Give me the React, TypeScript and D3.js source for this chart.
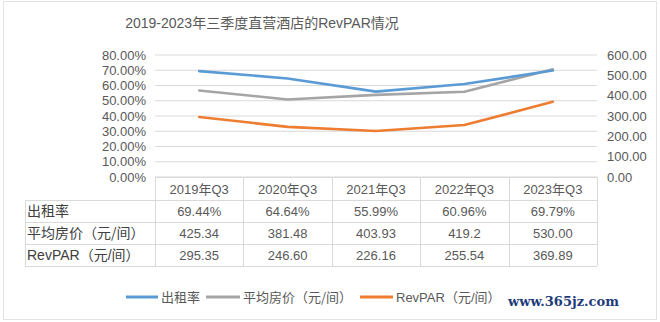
import React from "react";
import * as d3 from "d3";

const categories = ["2019年Q3", "2020年Q3", "2021年Q3", "2022年Q3", "2023年Q3"];
const occupancy = [69.44, 64.64, 55.99, 60.96, 69.79];
const avgPrice = [425.34, 381.48, 403.93, 419.2, 530.0];
const revpar = [295.35, 246.6, 226.16, 255.54, 369.89];
const occupancyLabels = ["69.44%", "64.64%", "55.99%", "60.96%", "69.79%"];
const avgPriceLabels = ["425.34", "381.48", "403.93", "419.2", "530.00"];
const revparLabels = ["295.35", "246.60", "226.16", "255.54", "369.89"];
const leftTicks = [0, 10, 20, 30, 40, 50, 60, 70, 80];
const rightTicks = [0, 100, 200, 300, 400, 500, 600];
const seriesNames = ["出租率", "平均房价（元/间）", "RevPAR（元/间）"];
const title = "2019-2023年三季度直营酒店的RevPAR情况";

const W = 660;
const H = 322;
const plotL = 155;
const plotR = 597;
const plotT = 55;
const plotB = 177;
const tableL = 25;
const headerB = 200;
const rowH = 22;
const colors = ["#5B9BD5", "#A5A5A5", "#ED7D31"];
const FONT = "'Liberation Sans', 'Noto Sans CJK SC', sans-serif";
const CJK = "'Noto Sans CJK SC', 'Liberation Sans', sans-serif";

export default function App() {
  const x = d3.scaleBand<string>().domain(categories).range([plotL, plotR]);
  const yL = d3.scaleLinear().domain([0, 80]).range([plotB, plotT]);
  const yR = d3.scaleLinear().domain([0, 600]).range([plotB, plotT]);
  const cx = (c: string) => (x(c) as number) + x.bandwidth() / 2;

  const lineL = d3
    .line<number>()
    .x((_, i) => cx(categories[i]))
    .y((d) => yL(d));
  const lineR = d3
    .line<number>()
    .x((_, i) => cx(categories[i]))
    .y((d) => yR(d));

  const rows = [occupancyLabels, avgPriceLabels, revparLabels];
  const gridColor = "#D9D9D9";
  const textColor = "#595959";

  const legendItems = [
    { x1: 126, x2: 158, tx: 161 },
    { x1: 206, x2: 240, tx: 243 },
    { x1: 360, x2: 393, tx: 396 },
  ];

  return (
    <svg
      width={W}
      height={H}
      style={{ position: "absolute", left: 0, top: 0, background: "#fff" }}
    >
      <rect x={3.5} y={1.5} width={653} height={318} fill="#fff" stroke="#E3E3E3" />
      <text
        x={262}
        y={28}
        textAnchor="middle"
        fontFamily={FONT}
        fontSize={14}
        fill={textColor}
      >
        {title}
      </text>

      {/* gridlines */}
      {leftTicks.map((t) => (
        <line
          key={"g" + t}
          x1={plotL}
          x2={plotR}
          y1={yL(t)}
          y2={yL(t)}
          stroke={gridColor}
          strokeWidth={1}
        />
      ))}
      {leftTicks.map((t) => (
        <text
          key={"l" + t}
          x={146}
          y={yL(t) + 4.5}
          textAnchor="end"
          fontFamily={FONT}
          fontSize={13}
          fill={textColor}
        >
          {t.toFixed(2) + "%"}
        </text>
      ))}
      {rightTicks.map((t) => (
        <text
          key={"r" + t}
          x={607}
          y={yR(t) + 4.5}
          textAnchor="start"
          fontFamily={FONT}
          fontSize={13}
          fill={textColor}
        >
          {t.toFixed(2)}
        </text>
      ))}

      {/* lines */}
      <path d={lineR(avgPrice) || ""} fill="none" stroke={colors[1]} strokeWidth={2.6} strokeLinejoin="round" strokeLinecap="round" />
      <path d={lineR(revpar) || ""} fill="none" stroke={colors[2]} strokeWidth={2.6} strokeLinejoin="round" strokeLinecap="round" />
      <path d={lineL(occupancy) || ""} fill="none" stroke={colors[0]} strokeWidth={2.6} strokeLinejoin="round" strokeLinecap="round" />

      {/* table */}
      <g stroke={gridColor} strokeWidth={1} fill="none">
        <line x1={plotL} x2={plotR} y1={plotB + 0.5} y2={plotB + 0.5} />
        {[0, 1, 2, 3].map((r) => (
          <line
            key={"h" + r}
            x1={tableL}
            x2={plotR}
            y1={headerB + r * rowH + 0.5}
            y2={headerB + r * rowH + 0.5}
          />
        ))}
        <line x1={tableL + 0.5} x2={tableL + 0.5} y1={headerB} y2={headerB + 3 * rowH} />
        {categories.map((c) => (
          <line
            key={"v" + c}
            x1={Math.round(x(c) as number) + 0.5}
            x2={Math.round(x(c) as number) + 0.5}
            y1={plotB}
            y2={headerB + 3 * rowH}
          />
        ))}
        <line x1={plotR + 0.5} x2={plotR + 0.5} y1={plotB} y2={headerB + 3 * rowH} />
      </g>
      {categories.map((c) => (
        <text
          key={"c" + c}
          x={cx(c)}
          y={(plotB + headerB) / 2 + 5}
          textAnchor="middle"
          fontFamily={FONT}
          fontSize={13}
          fill={textColor}
        >
          {c}
        </text>
      ))}
      {rows.map((vals, r) => (
        <g key={"row" + r}>
          <text
            x={tableL + 2}
            y={headerB + r * rowH + rowH / 2 + 5}
            fontFamily={r === 2 ? FONT : CJK}
            fontSize={14}
            fill="#404040"
          >
            {seriesNames[r]}
          </text>
          {vals.map((v, i) => (
            <text
              key={i}
              x={cx(categories[i])}
              y={headerB + r * rowH + rowH / 2 + 5}
              textAnchor="middle"
              fontFamily={FONT}
              fontSize={13}
              fill={textColor}
            >
              {v}
            </text>
          ))}
        </g>
      ))}

      {/* legend */}
      {legendItems.map((li, i) => (
        <g key={"lg" + i}>
          <line x1={li.x1} x2={li.x2} y1={297} y2={297} stroke={colors[i]} strokeWidth={3} />
          <text
            x={li.tx}
            y={302}
            fontFamily={i === 2 ? FONT : CJK}
            fontSize={13}
            fill={textColor}
          >
            {seriesNames[i]}
          </text>
        </g>
      ))}

      <text
        x={508}
        y={306}
        fontFamily="'DejaVu Serif', serif"
        fontWeight="bold"
        fontSize={13}
        fill="#1F3C7A"
      >
        www.365jz.com
      </text>
    </svg>
  );
}
